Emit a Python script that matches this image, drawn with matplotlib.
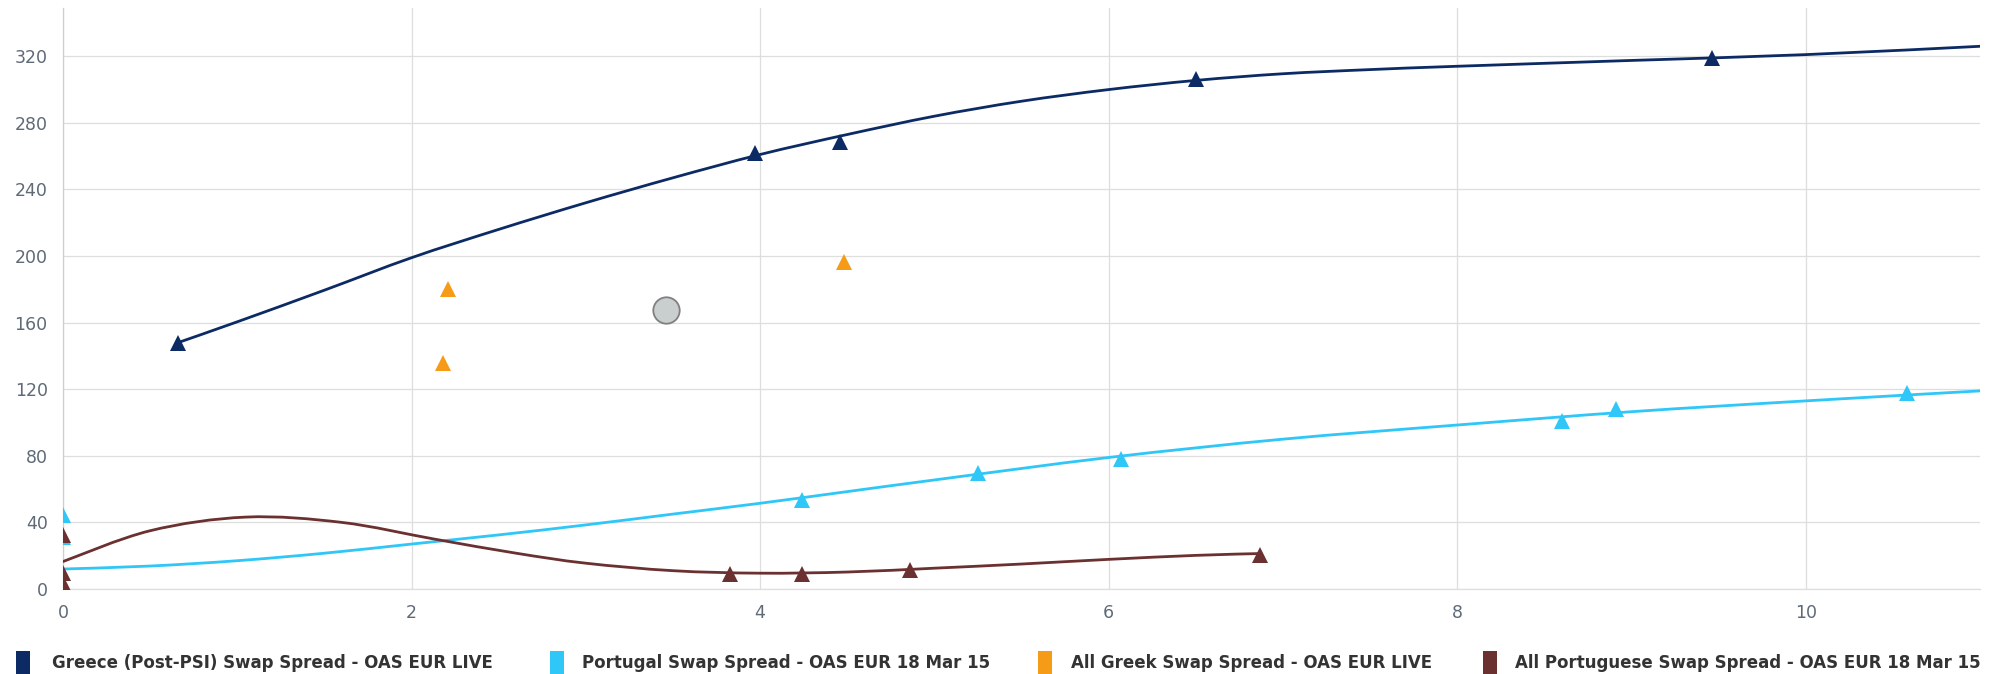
import matplotlib
matplotlib.use('Agg')
import matplotlib.pyplot as plt
from matplotlib.path import Path
from matplotlib.patches import PathPatch, Rectangle

# ---------------- data ----------------
x_ticks = [0, 2, 4, 6, 8, 10]
y_ticks = [0, 40, 80, 120, 160, 200, 240, 280, 320]

series_names = [
    "Greece (Post-PSI) Swap Spread - OAS EUR LIVE",
    "Portugal Swap Spread - OAS EUR 18 Mar 15",
    "All Greek Swap Spread - OAS EUR LIVE",
    "All Portuguese Swap Spread - OAS EUR 18 Mar 15",
]
series_colors = ["#0c2b64", "#2fc6f8", "#f59b17", "#6b3030"]

# Greece (Post-PSI) points and fitted curve
greece_x = [0.66, 3.97, 4.46, 6.50, 9.46]
greece_y = [147.5, 262.0, 268.5, 306.5, 319.0]
greece_curve_x = [0.66, 1.0, 1.5, 2.0, 2.5, 3.0, 3.5, 4.0, 4.5, 5.0, 5.5, 6.0, 6.5, 7.0, 7.5, 8.0, 9.0, 10.0, 11.0]
greece_curve_y = [148.0, 160.5, 179.5, 199.0, 216.0, 232.0, 247.0, 261.0, 273.0, 284.0, 293.0, 300.0, 305.5, 309.5, 312.0, 314.0, 317.5, 321.0, 326.0]

# Portugal points and fitted curve
portugal_x = [0.0, 0.0, 4.24, 5.25, 6.07, 8.60, 8.91, 10.58]
portugal_y = [44.5, 31.0, 53.6, 69.6, 78.2, 101.0, 108.0, 117.6]
portugal_curve_x = [0.0, 0.5, 1.0, 1.5, 2.0, 2.5, 3.0, 3.5, 4.0, 4.5, 5.0, 6.0, 7.0, 8.0, 9.0, 10.0, 11.0]
portugal_curve_y = [12.0, 13.8, 17.0, 21.5, 27.0, 32.5, 38.5, 45.0, 51.5, 58.5, 65.5, 79.0, 90.0, 98.5, 106.5, 113.0, 119.0]

# All Greek points
greek_x = [2.18, 2.21, 4.48]
greek_y = [135.5, 180.5, 196.6]

# All Portuguese points and fitted curve
portuguese_x = [0.0, 0.0, 0.0, 3.83, 4.24, 4.86, 6.87]
portuguese_y = [32.4, 9.4, 3.4, 9.3, 9.3, 11.6, 20.6]
portuguese_curve_x = [0.0, 0.5, 1.05, 1.6, 2.13, 2.6, 3.0, 3.5, 4.0, 4.5, 5.0, 5.5, 6.0, 6.5, 6.87]
portuguese_curve_y = [16.5, 35.0, 43.2, 40.0, 30.0, 21.5, 15.5, 11.0, 9.5, 10.2, 12.5, 15.0, 17.8, 20.2, 21.3]

# highlighted position
highlight_x = [3.46]
highlight_y = [167.7]

# ---------------- figure ----------------
W, H = 1999, 674
fig = plt.figure(figsize=(W / 100, H / 100), dpi=100)
ax = fig.add_axes([63 / W, 85 / H, 1917 / W, 581 / H])
ax.set_xlim(0, 11)
ax.set_ylim(0, 349)

grid_col = "#dedede"
ax.set_axisbelow(True)
ax.grid(True, color=grid_col, linewidth=0.9)
for s in ["top", "right"]:
    ax.spines[s].set_visible(False)
ax.spines["left"].set_color("#cfcfcf")
ax.spines["left"].set_linewidth(0.9)
ax.spines["bottom"].set_color(grid_col)
ax.spines["bottom"].set_linewidth(0.9)

ax.set_xticks(x_ticks)
ax.set_yticks(y_ticks)
ax.tick_params(axis="both", length=0, labelsize=12.5, labelcolor="#5f6a77")
ax.tick_params(axis="y", pad=11)
ax.tick_params(axis="x", pad=11)


def smooth_curve(xs, ys, color, lw):
    pts = list(zip(xs, ys))
    n = len(pts)
    verts = [pts[0]]
    codes = [Path.MOVETO]
    for i in range(n - 1):
        p0 = pts[i - 1] if i > 0 else pts[i]
        p1 = pts[i]
        p2 = pts[i + 1]
        p3 = pts[i + 2] if i + 2 < n else pts[i + 1]
        c1 = (p1[0] + (p2[0] - p0[0]) / 6.0, p1[1] + (p2[1] - p0[1]) / 6.0)
        c2 = (p2[0] - (p3[0] - p1[0]) / 6.0, p2[1] - (p3[1] - p1[1]) / 6.0)
        verts += [c1, c2, p2]
        codes += [Path.CURVE4, Path.CURVE4, Path.CURVE4]
    patch = PathPatch(Path(verts, codes), facecolor="none", edgecolor=color,
                      linewidth=lw, capstyle="round", joinstyle="round", zorder=3)
    ax.add_patch(patch)


ms = 11.5
# Greece
smooth_curve(greece_curve_x, greece_curve_y, series_colors[0], 2.0)
ax.plot(greece_x, greece_y, linestyle="none", marker="^", ms=ms,
        color=series_colors[0], markeredgewidth=0, zorder=4)
# Portugal
smooth_curve(portugal_curve_x, portugal_curve_y, series_colors[1], 2.0)
ax.plot(portugal_x, portugal_y, linestyle="none", marker="^", ms=ms,
        color=series_colors[1], markeredgewidth=0, zorder=4)
# All Greek
ax.plot(greek_x, greek_y, linestyle="none", marker="^", ms=ms,
        color=series_colors[2], markeredgewidth=0, zorder=4)
# All Portuguese
smooth_curve(portuguese_curve_x, portuguese_curve_y, series_colors[3], 2.0)
ax.plot(portuguese_x, portuguese_y, linestyle="none", marker="^", ms=ms,
        color=series_colors[3], markeredgewidth=0, zorder=5)
# highlight circle
ax.plot(highlight_x, highlight_y, linestyle="none", marker="o", ms=19,
        markerfacecolor="#c9cecf", markeredgecolor="#808080",
        markeredgewidth=1.3, zorder=6)

# ---------------- legend (manual) ----------------
marker_left = [16, 550, 1038, 1483]
text_left = [52, 582, 1071, 1515]
for name, col, mx, tx in zip(series_names, series_colors, marker_left, text_left):
    fig.add_artist(Rectangle((mx / W, -2 / H), 14 / W, 25 / H,
                             transform=fig.transFigure, facecolor=col,
                             edgecolor="none"))
    fig.text(tx / W, 11 / H, name, ha="left", va="center", fontsize=12,
             fontweight="bold", color="#333333", family="DejaVu Sans")

fig.savefig("out.png", dpi=100)
